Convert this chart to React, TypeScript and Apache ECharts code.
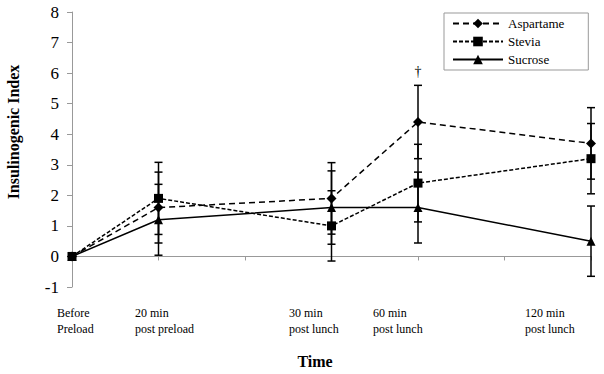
import React, { useEffect, useRef } from "react";
import * as echarts from "echarts";

const timeLabels = ["Before\nPreload", "20 min\npost preload", "30 min\npost lunch", "60 min\npost lunch", "120 min\npost lunch"];
const xPositions = [0, 1, 3, 4, 6];
const labelLefts = [57, 135, 289, 373, 525];

const aspartame = [0, 1.6, 1.9, 4.4, 3.7];
const aspartameErr = [0, 1.16, 1.17, 1.2, 1.17];
const stevia = [0, 1.9, 1.0, 2.4, 3.2];
const steviaErr = [0, 1.18, 1.15, 1.27, 1.15];
const sucrose = [0, 1.2, 1.6, 1.6, 0.5];
const sucroseErr = [0, 1.16, 1.2, 1.16, 1.15];

const yTicks = [-1, 0, 1, 2, 3, 4, 5, 6, 7, 8];

const FONT = "Liberation Serif";

export default function App() {
  const ref = useRef<HTMLDivElement>(null);
  useEffect(() => {
    if (!ref.current) return;
    const chart = echarts.init(ref.current, undefined, { renderer: "svg" });

    const pts = (vals: number[]) => vals.map((v, i) => [xPositions[i], v]);
    const errs: number[][] = [];
    [
      [aspartame, aspartameErr],
      [stevia, steviaErr],
      [sucrose, sucroseErr],
    ].forEach(([vals, e]) => {
      vals.forEach((v, i) => {
        if (e[i] > 0) errs.push([xPositions[i], v - e[i], v + e[i]]);
      });
    });

    const lineSeries = (name: string, vals: number[], symbol: string, size: number, type: any) => ({
      name,
      type: "line",
      data: pts(vals),
      symbol,
      symbolSize: size,
      z: 3,
      itemStyle: { color: "#000" },
      lineStyle: { color: "#000", width: 1.5, type },
    });

    const txt = (extra: any) => ({
      fontFamily: FONT,
      fill: "#000",
      ...extra,
    });

    chart.setOption({
      animation: false,
      grid: { left: 72, right: 13, top: 12, bottom: 87 },
      legend: {
        orient: "vertical",
        left: 444,
        top: 13,
        padding: [4, 24, 4, 8],
        itemWidth: 50,
        itemHeight: 12,
        itemGap: 5,
        borderColor: "#999",
        borderWidth: 1,
        backgroundColor: "#fff",
        textStyle: { fontFamily: FONT, fontSize: 13, color: "#000" },
        data: ["Aspartame", "Stevia", "Sucrose"],
      },
      xAxis: {
        type: "value",
        min: 0,
        max: 6,
        interval: 1,
        axisLine: { onZero: true, lineStyle: { color: "#999", width: 1 } },
        axisTick: { show: true, length: 4, lineStyle: { color: "#999" } },
        axisLabel: { show: false },
        splitLine: { show: false },
      },
      yAxis: {
        type: "value",
        min: yTicks[0],
        max: yTicks[yTicks.length - 1],
        interval: 1,
        axisLine: { show: true, lineStyle: { color: "#999", width: 1 } },
        axisTick: { show: true, length: 5, lineStyle: { color: "#999" } },
        axisLabel: { margin: 13, fontFamily: FONT, fontSize: 17, color: "#000" },
        splitLine: { show: false },
      },
      graphic: [
        {
          type: "text",
          x: 13,
          y: 132,
          rotation: Math.PI / 2,
          style: txt({
            text: "Insulinogenic Index",
            fontSize: 16,
            fontWeight: "bold",
            align: "center",
            verticalAlign: "middle",
          }),
        },
        {
          type: "text",
          x: 315,
          y: 361,
          style: txt({
            text: "Time",
            fontSize: 16,
            fontWeight: "bold",
            align: "center",
            verticalAlign: "middle",
          }),
        },
        {
          type: "text",
          x: 418,
          y: 71,
          style: txt({
            text: "†",
            fontSize: 14,
            align: "center",
            verticalAlign: "middle",
          }),
        },
        ...timeLabels.map((t, i) => ({
          type: "text",
          x: labelLefts[i],
          y: 305,
          style: txt({
            text: t,
            fontSize: 12,
            align: "left",
            verticalAlign: "top",
            lineHeight: 16,
          }),
        })),
      ],
      series: [
        {
          type: "custom",
          name: "errors",
          data: errs,
          z: 2,
          silent: true,
          renderItem: (params: any, api: any) => {
            const x = api.value(0);
            const lo = api.coord([x, api.value(1)]);
            const hi = api.coord([x, api.value(2)]);
            const h = 4;
            const style = { stroke: "#000", lineWidth: 1.5 };
            return {
              type: "group",
              children: [
                { type: "line", shape: { x1: lo[0], y1: lo[1], x2: hi[0], y2: hi[1] }, style },
                { type: "line", shape: { x1: lo[0] - h, y1: lo[1], x2: lo[0] + h, y2: lo[1] }, style },
                { type: "line", shape: { x1: hi[0] - h, y1: hi[1], x2: hi[0] + h, y2: hi[1] }, style },
              ],
            };
          },
        },
        lineSeries("Aspartame", aspartame, "diamond", 10, [6, 4]),
        lineSeries("Stevia", stevia, "rect", 9, [4, 2]),
        lineSeries("Sucrose", sucrose, "triangle", 9, "solid"),
      ],
    });
    return () => chart.dispose();
  }, []);
  return <div ref={ref} style={{ position: "fixed", left: 0, top: 0, width: 604, height: 374, background: "#fff" }} />;
}
